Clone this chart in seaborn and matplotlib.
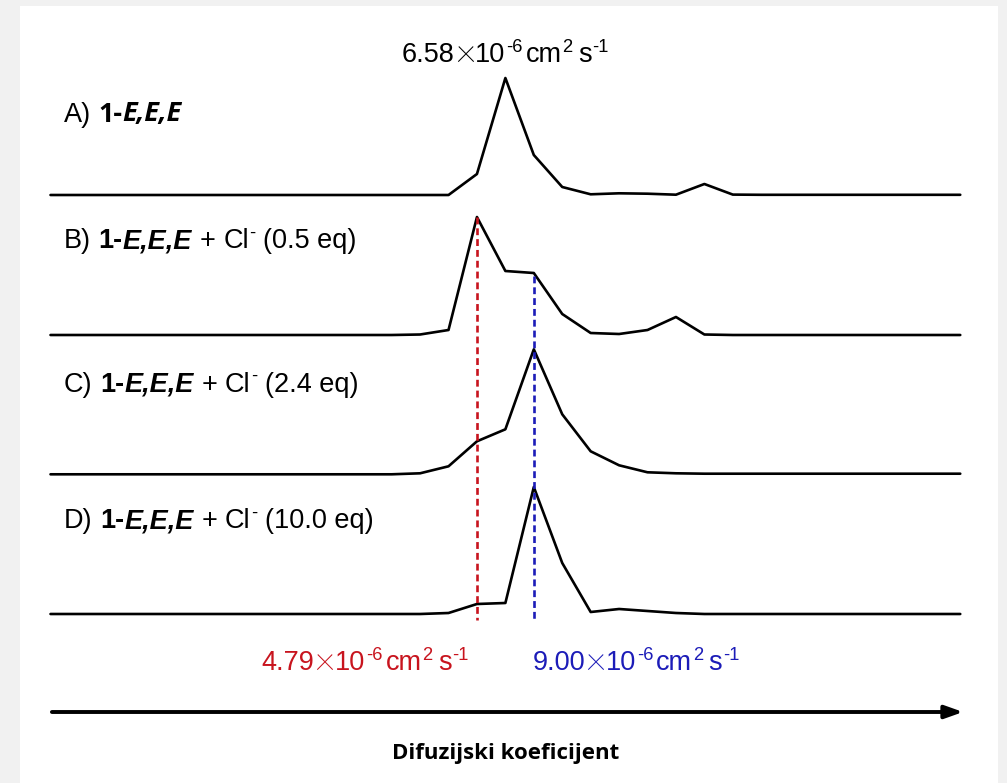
import numpy as np
import pandas as pd
import matplotlib
matplotlib.use("Agg")
import matplotlib.pyplot as plt
from matplotlib.patches import Rectangle
from matplotlib.transforms import ScaledTranslation
import seaborn as sns

# ---------------- data ----------------
bins = list(range(33))  # diffusion-coefficient bins (log scale, arbitrary units)
trace_A = [0]*14 + [0.0, 0.21, 1.17, 0.40, 0.08, 0.007, 0.017, 0.013, 0.003, 0.11, 0.004] + [0.002]*8
trace_B = [0]*13 + [0.005, 0.05, 1.18, 0.64, 0.62, 0.21, 0.02, 0.01, 0.05, 0.18, 0.005] + [0.0]*9
trace_C = [0]*13 + [0.01, 0.08, 0.33, 0.45, 1.25, 0.60, 0.23, 0.09, 0.02, 0.01] + [0.006]*10
trace_D = [0]*14 + [0.01, 0.10, 0.11, 1.27, 0.51, 0.02, 0.05, 0.03, 0.01] + [0.0]*10
series_names = ["A", "B", "C", "D"]
series_values = [trace_A, trace_B, trace_C, trace_D]
red_bin, blue_bin, top_bin = 15, 17, 16
top_value, red_value, blue_value = "6.58", "4.79", "9.00"
eq_values = [None, "0.5", "2.4", "10.0"]
letters = ["A)", "B)", "C)", "D)"]
xlabel = "Difuzijski koeficijent"

# ---------------- layout / style ----------------
offsets = [5.88, 4.48, 3.087, 1.69]
label_base = [6.615, 5.345, 3.915, 2.545]
RED = "#c8141e"
BLUE = "#1c1cb8"

sns.set_theme(style="white")
plt.rcParams["font.family"] = ["Liberation Sans", "DejaVu Sans"]
plt.rcParams["text.color"] = "black"

fig = plt.figure(figsize=(10.07, 7.83), dpi=100)
fig.patch.set_facecolor("#f1f1f1")
ax = fig.add_axes([0, 0, 1, 1])
ax.set_facecolor("none")
ax.add_patch(Rectangle((20/1007, 0), (998-20)/1007, (783-6)/783,
                       transform=fig.transFigure, facecolor="white",
                       edgecolor="none", zorder=0))
ax.set_xlim(-50.5/28.43, (1007-50.5)/28.43)
ax.set_ylim(0, 7.83)
ax.axis("off")

rows = []
for name, vals, off in zip(series_names, series_values, offsets):
    for b, v in zip(bins, vals):
        rows.append({"bin": b, "y": v + off, "trace": name})
df = pd.DataFrame(rows)
for name in series_names:
    sns.lineplot(data=df[df.trace == name], x="bin", y="y", color="black",
                 linewidth=1.9, estimator=None, sort=False, ax=ax, zorder=3)

# dashed markers
yb_peak = trace_B[red_bin] + offsets[1]
yb_blue = trace_B[blue_bin] + offsets[1] - 0.03
ax.plot([red_bin, red_bin], [yb_peak, 1.63], color=RED, lw=1.9,
        linestyle=(0, (2.6, 1.5)), zorder=4)
ax.plot([blue_bin, blue_bin], [yb_blue, 1.63], color=BLUE, lw=1.9,
        linestyle=(0, (2.6, 1.5)), zorder=4)

fig.canvas.draw()
renderer = fig.canvas.get_renderer()


def rich(x, y, parts, fs, color="black", ha="left"):
    """parts: list of (text, kwargs, scale, rise_frac, pad_frac)"""
    placed = []
    dx = 0.0
    for s, kw, scale, rise, pad in parts:
        size = fs * scale
        dx += pad * fs * 100 / 72
        t = ax.text(x, y, s, ha="left", va="baseline", fontsize=size,
                    color=color, **kw)
        w = t.get_window_extent(renderer).width
        placed.append((t, dx, rise * fs * 100 / 72))
        dx += w
    shift = -dx / 2 if ha == "center" else 0.0
    for t, tx, ty in placed:
        t.set_transform(ax.transData + ScaledTranslation((tx + shift) / 100, ty / 100,
                                                         fig.dpi_scale_trans))


thin = {"family": ["Roboto", "DejaVu Sans"], "fontweight": "light"}


def value_parts(v):
    return [(v, {}, 1.0, 0, 0),
            ("\u00d7", thin, 1.45, 0.0, 0.0),
            ("10", {}, 1.0, 0, 0),
            ("-6", {}, 0.68, 0.38, 0.03),
            ("cm", {}, 1.0, 0, 0.12),
            ("2", {}, 0.68, 0.38, 0.03),
            ("s", {}, 1.0, 0, 0.2),
            ("-1", {}, 0.68, 0.38, 0.03)]


VS = 19.5
rich(top_bin, 7.21, value_parts(top_value), VS, "black", "center")
rich(11.07, 1.13, value_parts(red_value), VS, RED, "center")
rich(20.6, 1.13, value_parts(blue_value), VS, BLUE, "center")

FS = 19.5
reg = {}
bold = {"fontweight": "bold"}
bi = {"fontweight": "bold", "fontstyle": "italic"}
x0 = (64 - 50.5) / 28.43
for i in range(4):
    if i == 0:
        parts = [(letters[i], reg, 1, 0, 0),
                 ("1-", {"fontweight": "bold", "family": "Open Sans"}, 1, 0, 0.28),
                 ("E,E,E", {"fontweight": "bold", "fontstyle": "italic",
                            "family": "Open Sans"}, 1, 0, 0)]
    else:
        parts = [(letters[i], reg, 1, 0, 0),
                 ("1-", bold, 1, 0, 0.28),
                 ("E,E,E", bi, 1, 0, 0),
                 ("+", reg, 1, 0, 0.28),
                 ("Cl", reg, 1, 0, 0.28),
                 ("-", reg, 0.68, 0.38, 0.02),
                 ("(" + eq_values[i] + " eq)", reg, 1, 0, 0.28)]
    rich(x0, label_base[i], parts, FS)

# axis arrow
ax.annotate("", xy=(32.1, 0.71), xytext=(0.05, 0.71),
            arrowprops=dict(arrowstyle="-|>,head_length=0.9,head_width=0.32",
                            color="black", lw=2.8, shrinkA=0, shrinkB=0))
ax.text(16.0, 0.245, xlabel, ha="center", va="baseline", fontsize=16,
        fontweight="bold", color="black", family=["Open Sans", "DejaVu Sans"])

fig.savefig("out.png", dpi=100, facecolor=fig.get_facecolor())
